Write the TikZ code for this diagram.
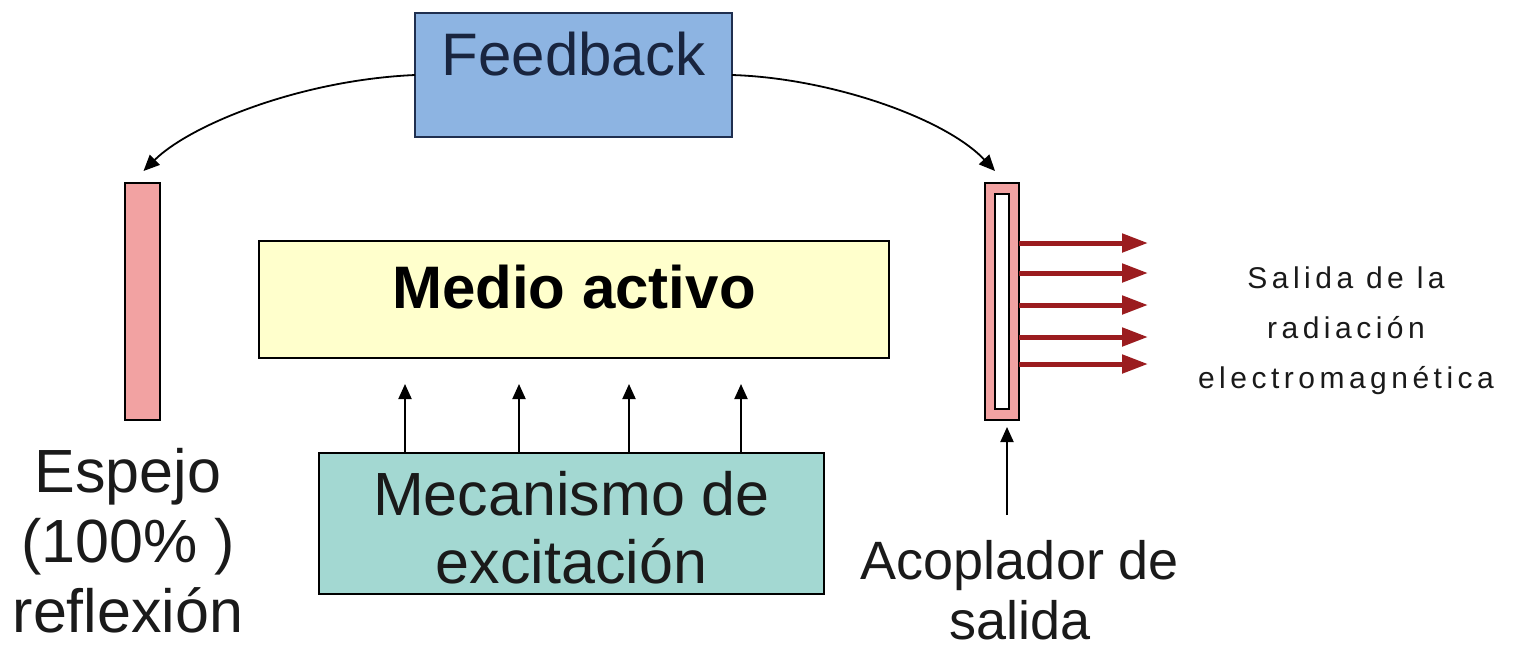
\documentclass[tikz,border=0pt]{standalone}
\usepackage{fontspec}
\setmainfont{Liberation Sans}
\usetikzlibrary{arrows.meta,calc}
\definecolor{fbblue}{HTML}{8DB4E2}
\definecolor{fbedge}{HTML}{1F2F4F}
\definecolor{mirrorpink}{HTML}{F2A2A2}
\definecolor{mediofill}{HTML}{FFFFCC}
\definecolor{mecanfill}{HTML}{A3D8D2}
\definecolor{rayred}{HTML}{9B1C1F}
\definecolor{inktext}{HTML}{1A1A1A}
\begin{document}
\begin{tikzpicture}[x=1pt,y=-1pt,
  blockbox/.style={draw=black,line width=2pt,inner sep=0pt,outer sep=0pt,align=center,text=inktext},
  mirrorbox/.style={draw=black,line width=2pt,fill=mirrorpink,inner sep=0pt,outer sep=0pt},
  bigtxt/.style={inner sep=0pt,align=center,text=inktext,font=\fontsize{61}{70}\selectfont},
  thinarrow/.style={line width=2pt,-{Triangle[length=15pt,width=13pt]}},
  curvearrow/.style={line width=1.8pt,-{Triangle[length=16pt,width=14pt]}},
  rayarrow/.style={line width=5pt,rayred,-{Triangle[length=26pt,width=18pt]}}
]
\useasboundingbox[fill=white] (0,0) rectangle (1517,649);

% Feedback box
\node[blockbox,fill=fbblue,draw=fbedge,text=fbedge!80!black,minimum width=317pt,
      text height=62pt,text depth=62pt,anchor=base,
      font=\fontsize{60}{70}\selectfont] (fb) at (573.5,75) {Feedback};

% Medio activo
\node[blockbox,fill=mediofill,minimum width=630pt,text height=67pt,text depth=50pt,
      anchor=base,text=black,font=\fontsize{60}{70}\selectfont\bfseries] (medio) at (574,308) {Medio activo};

% Mecanismo de excitacion (base = last line)
\node[blockbox,fill=mecanfill,minimum width=505pt,text height=130pt,text depth=11pt,
      anchor=base,font=\fontsize{61}{68}\selectfont] (mec) at (571.5,583) {Mecanismo de\\excitación};

% Left mirror
\node[mirrorbox,minimum width=35pt,minimum height=237pt] (espejo) at (142.5,301.5) {};
\node[bigtxt,anchor=base] (esptext) at (128,632) {Espejo\\(100\% )\\reflexión};

% Output coupler
\node[mirrorbox,minimum width=34pt,minimum height=237pt] (acop) at (1002,301.5) {};
\node[draw=black,line width=1.6pt,fill=white,inner sep=0pt,minimum width=14pt,minimum height=215pt] (acopin) at (acop.center) {};
\node[bigtxt,anchor=base,font=\fontsize{54}{60}\selectfont] (acoptext) at (1020,639) {Acoplador de\\salida};

% Output radiation text
\node[inner sep=0pt,align=center,anchor=base,text=inktext,
      font=\fontsize{30}{50}\selectfont\addfontfeature{LetterSpace=15}] (salida) at (1346,388)
      {Salida de la\\radiación\\electromagnética};

% Feedback curves
\draw[curvearrow] (fb.west) .. controls (300,80) and (190,125) .. ($(espejo.north)+(1,-12)$);
\draw[curvearrow] (fb.east) .. controls (830,78) and (945,118) .. ($(acop.north)+(-7,-12)$);

% Excitation arrows
\foreach \xx [count=\i] in {405,519,629,741} {
  \coordinate (up\i) at (\xx,384);
  \draw[thinarrow] (mec.north -| up\i) -- (up\i);
}

% Coupler support arrow
\coordinate (acopstart) at (1007,515);
\draw[thinarrow,shorten >=7pt] (acopstart) -- (acopstart |- acop.south);

% Output rays
\foreach \yy [count=\i] in {243,273,305,337,364} {
  \coordinate (ray\i) at (1148,\yy);
  \draw[rayarrow] (acop.east |- ray\i) -- (ray\i);
}
\end{tikzpicture}
\end{document}
